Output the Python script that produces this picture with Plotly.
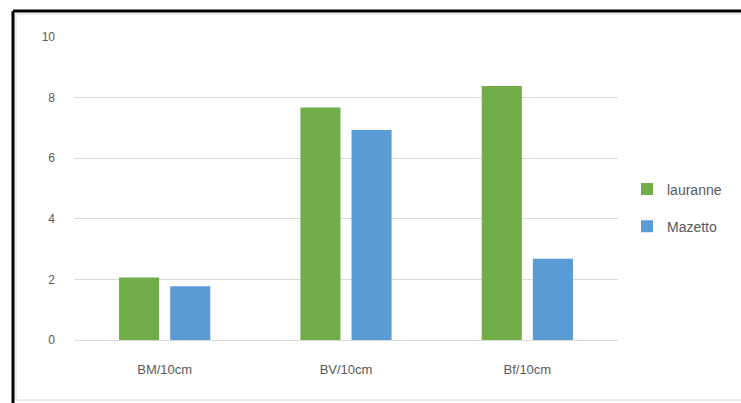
import plotly.graph_objects as go

categories = ["BM/10cm", "BV/10cm", "Bf/10cm"]
lauranne = [2.06, 7.67, 8.38]
mazetto = [1.77, 6.93, 2.68]
y_ticks = [0, 2, 4, 6, 8, 10]

fig = go.Figure()
fig.add_trace(go.Bar(name="lauranne", x=categories, y=lauranne,
                     marker=dict(color="#70AD47", line=dict(width=0)),
                     legendgroup="a"))
fig.add_trace(go.Bar(name="Mazetto", x=categories, y=mazetto,
                     marker=dict(color="#5B9BD5", line=dict(width=0)),
                     legendgroup="b"))

W, H = 741, 403
L, R, T, B = 74, 123, 37, 63
pw, ph = W - L - R, H - T - B

def px(x):
    return (x - L) / pw

def py(y):
    return (H - B - y) / ph

fig.update_layout(
    width=W, height=H,
    margin=dict(l=L, r=R, t=T, b=B, autoexpand=False),
    paper_bgcolor="white", plot_bgcolor="white",
    barmode="group", bargap=0.436, bargroupgap=0.216,
    font=dict(family="Liberation Sans Narrow, Liberation Sans, Arial", color="#595959", size=12),
    showlegend=True,
    legend=dict(x=px(627), y=py(208), xanchor="left", yanchor="middle",
                font=dict(size=14, color="#595959"),
                traceorder="grouped", tracegroupgap=16,
                itemwidth=30, bgcolor="rgba(0,0,0,0)"),
    xaxis=dict(showgrid=False, showline=False, ticks="", ticklabelstandoff=20,
               tickfont=dict(size=13, color="#595959")),
    yaxis=dict(range=[0, 10], tickvals=y_ticks, showgrid=True, gridcolor="#d9d9d9",
               gridwidth=1, zeroline=True, zerolinecolor="#d9d9d9", zerolinewidth=1,
               showline=False, ticks="", ticklabelstandoff=18,
               tickfont=dict(size=12, color="#595959")),
    shapes=[
        dict(type="rect", xref="paper", yref="paper",
             x0=px(16), x1=px(745), y0=py(400), y1=py(14),
             line=dict(color="#d9d9d9", width=1), fillcolor="rgba(0,0,0,0)", layer="below"),
        dict(type="line", xref="paper", yref="paper",
             x0=px(13), x1=px(750), y0=py(11), y1=py(11),
             line=dict(color="black", width=3)),
        dict(type="line", xref="paper", yref="paper",
             x0=px(13), x1=px(13), y0=py(11), y1=py(410),
             line=dict(color="black", width=3)),
    ],
)

fig.write_html("out.html")
